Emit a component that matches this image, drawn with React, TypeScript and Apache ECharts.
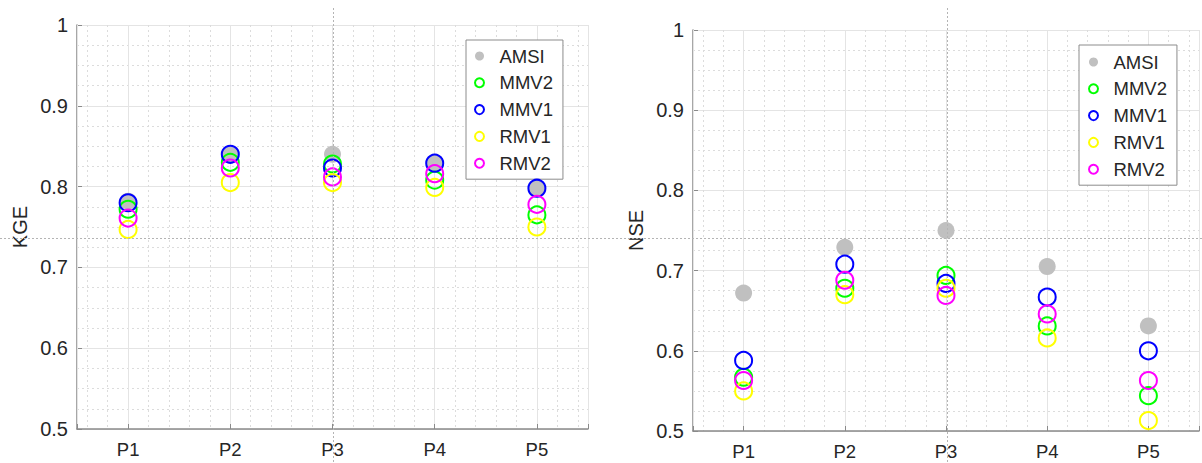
import React, { useEffect, useRef } from "react";
import * as echarts from "echarts";

const categories = ["P1", "P2", "P3", "P4", "P5"];
const seriesNames = ["AMSI", "MMV2", "MMV1", "RMV1", "RMV2"];
const seriesColors = ["#c0c0c0", "#00ff00", "#0000ff", "#ffff00", "#ff00ff"];

const kgeAMSI = [0.782, 0.839, 0.84, 0.83, 0.798];
const kgeMMV2 = [0.772, 0.83, 0.828, 0.808, 0.765];
const kgeMMV1 = [0.78, 0.84, 0.823, 0.829, 0.798];
const kgeRMV1 = [0.747, 0.805, 0.805, 0.799, 0.75];
const kgeRMV2 = [0.761, 0.823, 0.812, 0.816, 0.778];

const nseAMSI = [0.672, 0.729, 0.75, 0.705, 0.631];
const nseMMV2 = [0.567, 0.678, 0.694, 0.631, 0.544];
const nseMMV1 = [0.588, 0.708, 0.684, 0.667, 0.6];
const nseRMV1 = [0.55, 0.67, 0.678, 0.616, 0.513];
const nseRMV2 = [0.563, 0.688, 0.669, 0.646, 0.563];

const yTicks = { min: 0.5, max: 1, interval: 0.1 };

const FONT = "'Liberation Sans', Arial, sans-serif";
const TEXT = "#262626";
const AXIS = "#8a8a8a";
const MAJOR = "#e4e4e4";
const MINOR = "#dcdcdc";

export default function App() {
  const ref = useRef<HTMLDivElement>(null);

  useEffect(() => {
    if (!ref.current) return;
    const chart = echarts.init(ref.current, undefined, { renderer: "svg" });

    const kge = [kgeAMSI, kgeMMV2, kgeMMV1, kgeRMV1, kgeRMV2];
    const nse = [nseAMSI, nseMMV2, nseMMV1, nseRMV1, nseRMV2];

    const xMajor = (gridIndex: number) => ({
      type: "value",
      gridIndex,
      min: 0.5,
      max: 5.5,
      splitNumber: 5,
      axisLine: { show: true, onZero: false, lineStyle: { color: AXIS, width: 1.5 } },
      axisTick: { show: true, inside: true, length: 5, lineStyle: { color: AXIS } },
      axisLabel: {
        show: true,
        margin: 11,
        color: TEXT,
        fontSize: 18.5,
        fontFamily: FONT,
        formatter: (v: number) =>
          Math.abs(v - Math.round(v)) < 1e-6 && v >= 1 && v <= 5 ? categories[Math.round(v) - 1] : "",
      },
      splitLine: { show: true, lineStyle: { color: MAJOR, width: 1 } },
      z: 3,
    });
    const xMinor = (gridIndex: number) => ({
      type: "value",
      gridIndex,
      min: 0.5,
      max: 5.5,
      splitNumber: 25,
      axisLine: { show: false },
      axisTick: { show: false },
      axisLabel: { show: false },
      splitLine: { show: true, lineStyle: { color: MINOR, width: 1, type: [2, 3] } },
      z: 1,
    });
    const yAxis = (gridIndex: number, name: string) => ({
      type: "value",
      gridIndex,
      min: yTicks.min,
      max: yTicks.max,
      interval: yTicks.interval,
      name,
      nameLocation: "middle",
      nameGap: 47,
      nameTextStyle: { color: TEXT, fontSize: 20, fontFamily: FONT },
      axisLine: { show: true, lineStyle: { color: AXIS, width: 1.5 } },
      axisTick: { show: true, inside: true, length: 5, lineStyle: { color: AXIS } },
      axisLabel: { margin: 9, color: TEXT, fontSize: 20, fontFamily: FONT },
      splitLine: { show: true, lineStyle: { color: MAJOR, width: 1 } },
      minorTick: { show: false, splitNumber: 4 },
      minorSplitLine: { show: true, lineStyle: { color: MINOR, width: 1, type: [2, 3] } },
    });

    const makeSeries = (data: number[][], xAxisIndex: number, yAxisIndex: number) =>
      data.map((vals, k) => ({
        type: "scatter",
        name: seriesNames[k],
        xAxisIndex,
        yAxisIndex,
        symbol: "circle",
        symbolSize: 17,
        itemStyle:
          k === 0
            ? { color: seriesColors[0], opacity: 1 }
            : { color: "rgba(255,255,255,0)", borderColor: seriesColors[k], borderWidth: 2, opacity: 1 },
        data: vals.map((v, i) => [i + 1, v]),
        z: 5,
      }));

    const legend = (left: number, top: number, padding: number[]) => ({
      orient: "vertical",
      left,
      top,
      data: seriesNames,
      padding,
      itemGap: 7.8,
      itemWidth: 30,
      itemHeight: 9,
      selectedMode: false,
      backgroundColor: "#ffffff",
      borderColor: "#8c8c8c",
      borderWidth: 1,
      borderRadius: 0,
      textStyle: { color: TEXT, fontSize: 18.5, lineHeight: 18.5, fontFamily: FONT },
    });

    chart.setOption({
      animation: false,
      backgroundColor: "#ffffff",
      textStyle: { fontFamily: FONT },
      grid: [
        { left: 77, top: 25, width: 511, height: 404 },
        { left: 693, top: 30, width: 510, height: 401 },
      ],
      xAxis: [xMajor(0), xMinor(0), xMajor(1), xMinor(1)],
      yAxis: [yAxis(0, "KGE"), yAxis(1, "NSE")],
      legend: [legend(466, 40, [6.5, 10, 6.5, 8]), legend(1079, 45, [7.5, 10, 6.5, 9])],
      series: [...makeSeries(kge, 0, 0), ...makeSeries(nse, 2, 1)],
      graphic: [
        {
          type: "line",
          z: 100,
          silent: true,
          shape: { x1: 0, y1: 238.5, x2: 1202, y2: 238.5 },
          style: { stroke: "#b4b4b4", lineWidth: 1, lineDash: [2, 2] },
        },
        {
          type: "line",
          z: 100,
          silent: true,
          shape: { x1: 333.5, y1: 8, x2: 333.5, y2: 463 },
          style: { stroke: "#b4b4b4", lineWidth: 1, lineDash: [2, 2] },
        },
        {
          type: "line",
          z: 100,
          silent: true,
          shape: { x1: 947.5, y1: 8, x2: 947.5, y2: 463 },
          style: { stroke: "#b4b4b4", lineWidth: 1, lineDash: [2, 2] },
        },
      ],
    });

    return () => chart.dispose();
  }, []);

  return (
    <div
      ref={ref}
      style={{ position: "fixed", left: 0, top: 0, width: 1202, height: 463, background: "#fff" }}
    />
  );
}
